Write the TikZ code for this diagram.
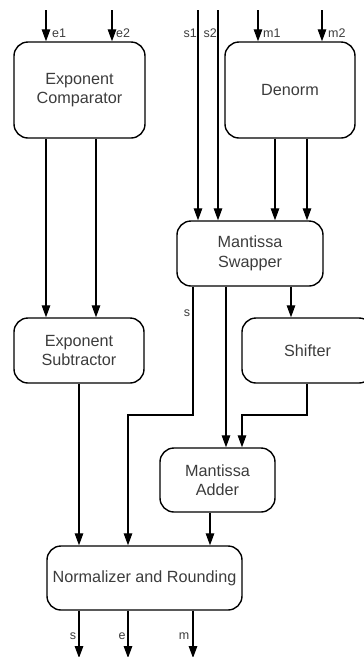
\documentclass[tikz,border=0pt]{standalone}
\usepackage{fontspec}
\setmainfont{Liberation Sans}
\usetikzlibrary{arrows.meta}
\definecolor{txt}{HTML}{3C3C3C}
\tikzset{
  blk/.style={draw=black, line width=1.4pt, rounded corners=14pt, align=center,
    text=txt, font=\fontsize{16.2}{19.5}\selectfont, inner sep=0pt},
  wire/.style={line width=1.3pt},
  arr/.style={wire, -{Triangle[width=8.5pt,length=12pt]}},
  lbl/.style={text=txt, font=\fontsize{12.5}{14}\selectfont, inner sep=0pt},
}
\begin{document}
\begin{tikzpicture}[x=1pt, y=-1pt]
\useasboundingbox (0,0) rectangle (364,657);
\clip (0,0) rectangle (364,657);

% functional blocks
\node[blk, minimum width=131pt, minimum height=96pt] (ec) at (79.5,90) {Exponent\\Comparator};
\node[blk, minimum width=130pt, minimum height=96pt] (dn) at (290,90) {Denorm};
\node[blk, minimum width=146pt, minimum height=65pt] (ms) at (250,253.5) {Mantissa\\Swapper};
\node[blk, minimum width=130pt, minimum height=65pt] (es) at (79,350.5) {Exponent\\Subtractor};
\node[blk, minimum width=131pt, minimum height=65pt] (sh) at (307.5,350.5) {Shifter};
\node[blk, minimum width=115pt, minimum height=64pt] (ma) at (217.5,480) {Mantissa\\Adder};
\node[blk, minimum width=195pt, minimum height=64pt] (nr) at (144.5,578) {Normalizer and Rounding};

% wire columns
\foreach \n/\x in {a/46, b/96, c/112, d/198, e/218, f/258, g/322, h/275, i/307,
                   j/193, k/226, l/291, m/128, n/242, o/79, p/210}
  \coordinate (x\n) at (\x,0);
\coordinate (top) at (0,10);
\coordinate (bot) at (0,658);
\coordinate (route) at (0,415);

% primary inputs
\draw[arr] (xa |- top) -- (ec.north -| xa);
\draw[arr] (xc |- top) -- (ec.north -| xc);
\draw[arr] (xf |- top) -- (dn.north -| xf);
\draw[arr] (xg |- top) -- (dn.north -| xg);
\draw[arr] (xd |- top) -- (ms.north -| xd);
\draw[arr] (xe |- top) -- (ms.north -| xe);
\node[lbl, anchor=west] at (52,33) {e1};
\node[lbl, anchor=west] at (116,33) {e2};
\node[lbl, anchor=east] at (197,33) {s1};
\node[lbl, anchor=east] at (217,33) {s2};
\node[lbl, anchor=west] at (263,33) {m1};
\node[lbl, anchor=west] at (328,33) {m2};

% comparator to subtractor
\draw[arr] (ec.south -| xa) -- (es.north -| xa);
\draw[arr] (ec.south -| xb) -- (es.north -| xb);

% denorm to swapper
\draw[arr] (dn.south -| xh) -- (ms.north -| xh);
\draw[arr] (dn.south -| xi) -- (ms.north -| xi);

% swapper outputs
\draw[arr] (ms.south -| xj) -- (xj |- route) -- (xm |- route) -- (nr.north -| xm);
\node[lbl] at (187,313) {s};
\draw[arr] (ms.south -| xk) -- (ma.north -| xk);
\draw[arr] (ms.south -| xl) -- (sh.north -| xl);

% shifter to adder
\draw[arr] (sh.south -| xi) -- (xi |- route) -- (xn |- route) -- (ma.north -| xn);

% into normalizer
\draw[arr] (es.south -| xo) -- (nr.north -| xo);
\draw[arr] (ma.south -| xp) -- (nr.north -| xp);

% results
\draw[arr] (nr.south -| xo) -- (xo |- bot);
\draw[arr] (nr.south -| xm) -- (xm |- bot);
\draw[arr] (nr.south -| xj) -- (xj |- bot);
\node[lbl] at (73,636) {s};
\node[lbl] at (122,636) {e};
\node[lbl] at (184,636) {m};
\end{tikzpicture}
\end{document}
